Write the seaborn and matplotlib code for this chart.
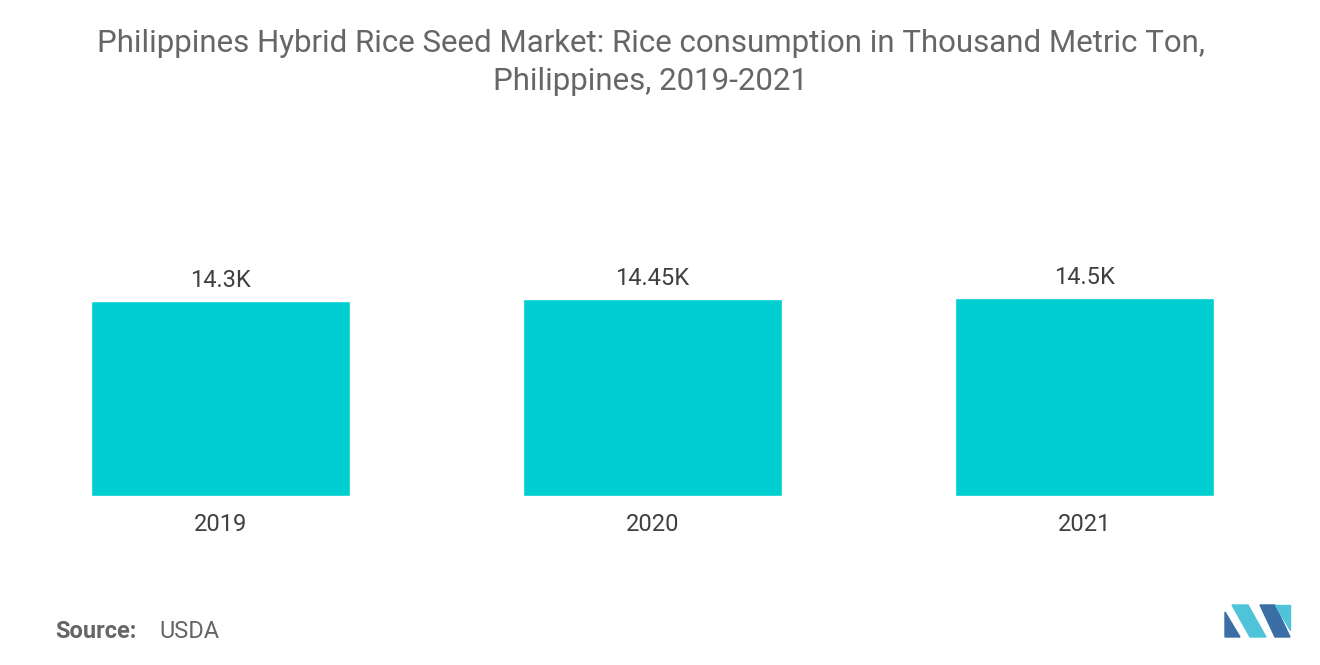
import matplotlib
matplotlib.use("Agg")
import matplotlib.pyplot as plt
from matplotlib.patches import Polygon
import seaborn as sns
import pandas as pd

years = ["2019", "2020", "2021"]
consumption = [14300, 14450, 14500]
bar_labels = ["14.3K", "14.45K", "14.5K"]

sns.set_theme(style="white", font="Roboto")
fig = plt.figure(figsize=(13.2, 6.65), dpi=100)

# axes: bottom at y=496px, top at y=200px
ax = fig.add_axes([0.0034, 1 - 496 / 665, 0.9818, 296 / 665])
df = pd.DataFrame({"year": years, "value": consumption})
sns.barplot(data=df, x="year", y="value", color="#00CED1", saturation=1, width=0.6, ax=ax)
ax.set_xlim(-0.5, 2.5)
ax.set_ylim(0, 14500 * 296 / 198)

for bar, lab in zip(ax.patches, bar_labels):
    ax.text(bar.get_x() + bar.get_width() / 2, bar.get_height() + 14500 * 9 / 198, lab,
            ha="center", va="bottom", fontsize=17, color="#404040")

ax.set_xlabel("")
ax.set_ylabel("")
ax.set_yticks([])
ax.tick_params(axis="x", labelsize=17, labelcolor="#404040", length=0, pad=12)
for s in ax.spines.values():
    s.set_visible(False)

fig.text(0.493, 0.956, "Philippines Hybrid Rice Seed Market: Rice consumption in Thousand Metric Ton,\nPhilippines, 2019-2021",
         ha="center", va="top", fontsize=22.5, color="#666666", linespacing=1.38)
fig.text(0.042, 0.04, "Source:", fontsize=17, color="#666666", fontweight="bold")
fig.text(0.121, 0.04, "USDA", fontsize=17, color="#666666")

# simple logo
W, H = 1320, 665
def px(pts):
    return [(x / W, 1 - y / H) for x, y in pts]
fig.patches.append(Polygon(px([(1225, 637), (1225, 612), (1240, 637)]), closed=True,
                           transform=fig.transFigure, color="#3a6ea5"))
fig.patches.append(Polygon(px([(1232, 605), (1248, 605), (1266, 637), (1250, 637)]), closed=True,
                           transform=fig.transFigure, color="#4fc3d9"))
fig.patches.append(Polygon(px([(1260, 605), (1275, 605), (1290, 637), (1275, 637)]), closed=True,
                           transform=fig.transFigure, color="#3a6ea5"))
fig.patches.append(Polygon(px([(1275, 605), (1290, 605), (1290, 630)]), closed=True,
                           transform=fig.transFigure, color="#4fc3d9"))

fig.savefig("out.png", dpi=100)
